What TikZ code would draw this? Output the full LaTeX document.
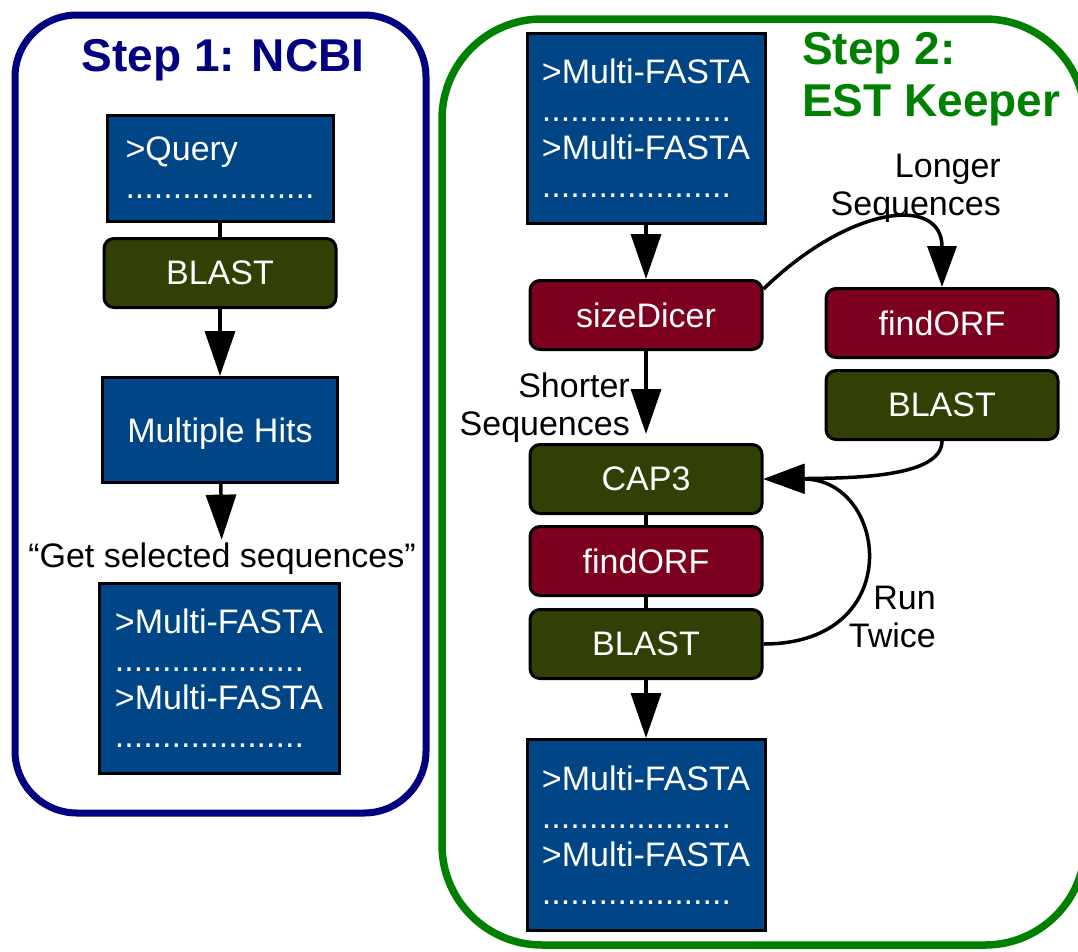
\documentclass[tikz,border=0pt]{standalone}
\usepackage{fontspec}
\setmainfont{Liberation Sans}
\usetikzlibrary{arrows.meta}
\definecolor{fastablue}{HTML}{004586}
\definecolor{toololiv}{HTML}{314004}
\definecolor{orfred}{HTML}{7E0021}
\definecolor{ncbinavy}{HTML}{000080}
\definecolor{estgreen}{HTML}{008000}
\newcommand{\dotrow}{....................}
\newcommand{\mfasta}{>Multi-FASTA\\\dotrow\\>Multi-FASTA\\\dotrow}
\begin{document}
\begin{tikzpicture}[x=1pt,y=-1pt,
    every node/.style={font=\fontsize{34}{38}\selectfont},
    datbox/.style={draw,line width=3pt,fill=fastablue,text=white,align=left},
    tool/.style={draw,line width=3pt,rounded corners=10pt,fill=toololiv,text=white,
        minimum width=232pt,minimum height=69pt,text depth=0pt},
    orf/.style={tool,fill=orfred},
    lbl/.style={align=right,anchor=east,inner sep=0pt},
    flow/.style={line width=3.5pt,-{Triangle[width=30pt,length=45pt]}},
    curv/.style={line width=3.5pt,-{Triangle[width=29pt,length=41pt]}}]
    \useasboundingbox (0,0) rectangle (1078,951);
    \draw[ncbinavy,line width=7pt,rounded corners=62pt] (15,15) rectangle (426,813);
    \draw[estgreen,line width=7.5pt,rounded corners=100pt] (442,19) rectangle (1085,945);
    \node[ncbinavy,font=\fontsize{46}{52}\bfseries\selectfont,text depth=0pt] (title1) at (223,55) {Step 1: NCBI};
    \node[estgreen,font=\fontsize{46}{52.5}\bfseries\selectfont,align=left,anchor=west,inner sep=0pt] (title2) at (802,79) {Step 2:\\EST Keeper};

    \node[datbox,minimum width=226pt,minimum height=106pt] (query) at (220,168) {>Query\\\dotrow};
    \node[tool] (blastA) at (220,273) {BLAST};
    \node[datbox,minimum width=235pt,minimum height=105pt,text depth=0pt] (hits) at (220,430) {Multiple Hits};
    \node (getsel) at (222,559) {“Get selected sequences”};
    \node[datbox,minimum width=240pt,minimum height=190pt] (fastaA) at (219,678) {\mfasta};
    \draw[line width=3.5pt] (query) -- (blastA);
    \draw[flow] (blastA) -- (hits);
    \draw[flow] (hits) -- (getsel);

    \node[datbox,minimum width=238pt,minimum height=190pt] (fastaB) at (646,128) {\mfasta};
    \node[orf] (dicer) at (646,315) {sizeDicer};
    \node[orf] (orfB) at (942,323) {findORF};
    \node[tool] (blastB) at (942,405) {BLAST};
    \node[tool] (cap) at (646,479) {CAP3};
    \node[orf] (orfC) at (646,561) {findORF};
    \node[tool] (blastC) at (646,644) {BLAST};
    \node[datbox,minimum width=238pt,minimum height=191pt] (fastaC) at (646,835) {\mfasta};
    \node[lbl] (longer) at (1001,188) {Longer\\Sequences};
    \node[lbl] (shorter) at (630,408) {Shorter\\Sequences};
    \node[lbl] (twice) at (936,617) {Run\\Twice};

    \draw[flow] (fastaB) -- (dicer);
    \draw[flow,shorten >=9pt] (dicer) -- (cap);
    \draw[line width=3.5pt] (cap) -- (orfC) -- (blastC);
    \draw[flow] (blastC) -- (fastaC);
    \draw[curv] ([yshift=-10pt]dicer.north east) .. controls (850,205) and (942,195) .. (orfB.north);
    \draw[curv] (blastB.south) .. controls (942,478) and (850,478) .. (cap.east);
    \draw[curv] (blastC.east) .. controls (908,644) and (888,479) .. (cap.east);
\end{tikzpicture}
\end{document}
